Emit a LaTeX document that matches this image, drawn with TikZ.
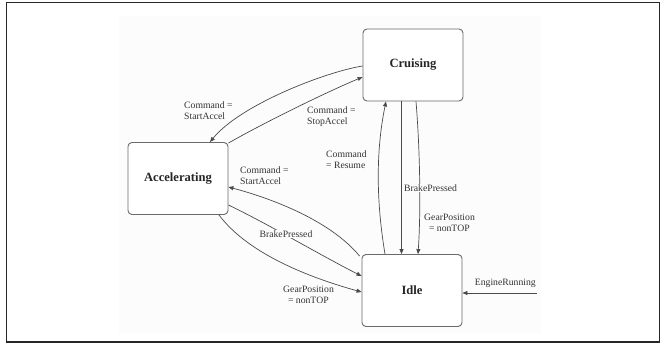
\documentclass[tikz,border=0pt]{standalone}
\usepackage{fontspec}
\setmainfont{Liberation Serif}
\usetikzlibrary{arrows.meta}
\definecolor{edgegray}{HTML}{4A4A4A}
\definecolor{boxgray}{HTML}{6A6A6A}
\definecolor{panel}{HTML}{FCFCFC}
\begin{document}
\begin{tikzpicture}[x=1pt,y=-1pt,
  state/.style={draw=boxgray,line width=0.9pt,rounded corners=4pt,fill=white,
    minimum width=100pt,minimum height=72pt,inner sep=0pt,
    font=\fontsize{12.6}{14}\selectfont\bfseries,text=black!85},
  trans/.style={draw=edgegray,line width=0.7pt,-{Triangle[length=5pt,width=4pt]}},
  lbl/.style={font=\fontsize{9.7}{10.7}\selectfont,text=black!80,align=left,inner sep=1pt}]
  \useasboundingbox (0,0) rectangle (665,345);
  % outer frame and diagram panel
  \draw[line width=1.2pt,black!85] (6.5,2.8) rectangle (659.5,342);
  \fill[panel] (119,16) rectangle (541,333);

  % states
  \node[state] (cruise) at (413,65) {Cruising};
  \node[state] (accel) at (178,178.5) {Accelerating};
  \node[state] (idle) at (412,290.5) {Idle};

  % free end of the initial transition
  \coordinate (start) at (537,293);

  % Cruising <-> Accelerating
  \draw[trans] (cruise.west |- 0,66) .. controls (325,72) and (240,105) .. (accel.north -| 210,0);
  \draw[trans] (accel.north east) ++(0,1) .. controls (260,125) and (320,95) .. (cruise.west |- 0,77);
  \node[lbl,anchor=north west] (l1) at (183,101) {Command =\\StartAccel};
  \node[lbl,anchor=north west] (l2) at (306,106) {Command =\\StopAccel};

  % Cruising <-> Idle
  \draw[trans] (idle.north -| 385,0) .. controls (376,200) and (376,150) .. (cruise.south -| 386,0);
  \draw[trans] (cruise.south -| 401.5,0) -- (idle.north -| 401.5,0);
  \draw[trans] (cruise.south -| 416,0) .. controls (420,150) and (421,210) .. (idle.north -| 418,0);
  \node[lbl,anchor=north west] (l3) at (325,150) {Command\\= Resume};
  \node[lbl,fill=panel,anchor=west] (l4) at (403,188) {BrakePressed};
  \node[lbl,fill=panel,anchor=north west] (l5) at (423,213) {GearPosition\\\ \ = nonTOP};

  % Accelerating <-> Idle
  \draw[trans] (idle.north west) ++(-2,2) .. controls (330,220) and (270,198) .. (accel.east |- 0,187);
  \draw[trans] (accel.east |- 0,205) .. controls (270,225) and (320,255) .. (idle.west |- 0,276);
  \draw[trans] (accel.south -| 219,0) .. controls (245,250) and (300,275) .. (idle.west |- 0,292);
  \node[lbl,anchor=north west] (l6) at (239,166) {Command =\\StartAccel};
  \node[lbl,fill=panel,anchor=center] (l7) at (286,234) {BrakePressed};
  \node[lbl,anchor=north west] (l8) at (282,285) {GearPosition\\\ \ = nonTOP};

  % initial transition
  \draw[trans] (start) -- (idle.east |- start);
  \node[lbl,anchor=south east] (l9) at (537,289) {EngineRunning};
\end{tikzpicture}
\end{document}
